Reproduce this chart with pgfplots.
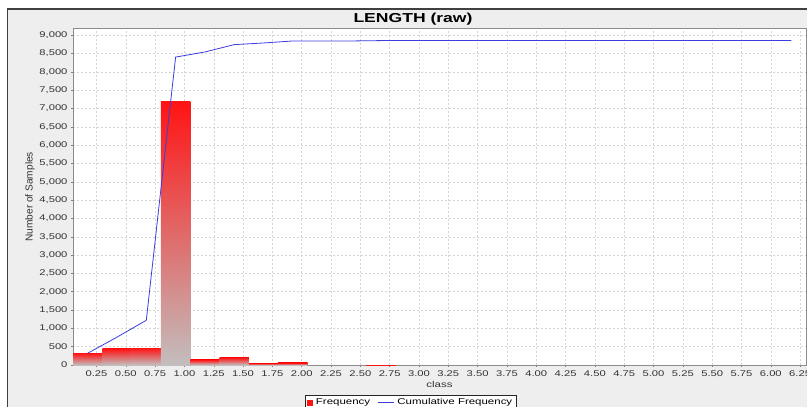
\documentclass[border=0pt]{standalone}
\usepackage{fontspec}
\setmainfont{Liberation Sans}[FakeStretch=1.35]
\usepackage{pgfplots}
\pgfplotsset{compat=1.18}

\definecolor{panelbg}{HTML}{EEEEEE}
\definecolor{barred}{RGB}{255,20,20}
\definecolor{bargray}{RGB}{195,190,190}
\definecolor{cumblue}{RGB}{60,60,225}
\definecolor{gridgray}{HTML}{D4D4D4}

\pgfplotsset{
  histbar/.style={ybar, bar width=0.25, bar shift=0pt, draw=none,
    top color=barred, bottom color=bargray, forget plot},
  tinybar/.style={ybar, bar width=0.25, bar shift=0pt, draw=none,
    fill=barred, forget plot},
}

\begin{document}
\begin{tikzpicture}
\useasboundingbox (0pt,0pt) rectangle (807pt,-407pt);
\clip (0pt,0pt) rectangle (807pt,-407pt);
\fill[white] (0pt,0pt) rectangle (807pt,-407pt);
\filldraw[fill=panelbg, draw=black!75, line width=1.2pt] (7.5pt,-9pt) rectangle (840pt,-440pt);
\node[font=\bfseries\fontsize{13}{15}\selectfont] at (413pt,-19pt) {LENGTH (raw)};
\begin{axis}[
  at={(73pt,-365pt)}, anchor=south west,
  scale only axis, width=733pt, height=336.5pt,
  xmin=0.05, xmax=6.30, ymin=0, ymax=9180,
  xtick={0.25,0.5,...,6.25},
  ytick={0,500,...,9000},
  tick pos=left, tick align=outside,
  major tick length=2pt,
  tick style={black!50, line width=0.4pt},
  axis line style={black!45, line width=0.6pt},
  axis background/.style={fill=white},
  grid=major,
  grid style={gridgray, line width=0.4pt, dash pattern=on 2pt off 2pt},
  /pgf/number format/assume math mode=true,
  ticklabel style={font=\fontsize{8.3}{10}\selectfont, text=black!80},
  xticklabel style={/pgf/number format/.cd, fixed, fixed zerofill, precision=2},
  yticklabel style={/pgf/number format/.cd, fixed, 1000 sep={,}},
  scaled ticks=false,
  xlabel={class},
  xlabel style={at={(axis description cs:0.5,-0.0564)}, anchor=center,
    font=\fontsize{8.5}{10}\selectfont, text=black!80},
  ylabel={\scalebox{1}[1.35]{Number of Samples}},
  ylabel style={at={(axis description cs:-0.0587,0.5)}, anchor=center,
    font=\fontsize{7.5}{9}\selectfont, text=black!80},
  legend columns=-1,
  legend style={at={(axis description cs:0.3165,-0.089)}, anchor=north west,
    draw=black!85, fill=white, line width=0.5pt, inner sep=1.5pt,
    font=\fontsize{8.5}{10}\selectfont,
    /tikz/every odd column/.append style={column sep=1.5pt},
    /tikz/every even column/.append style={column sep=5pt}},
]
% frequency per class (bin width 0.25, from 0.05)
\addplot[histbar] coordinates {(0.175,320)};
\addplot[histbar] coordinates {(0.425,440)};
\addplot[histbar] coordinates {(0.675,460)};
\addplot[histbar] coordinates {(0.925,7180)};
\addplot[histbar] coordinates {(1.175,140)};
\addplot[histbar] coordinates {(1.425,200)};
\addplot[histbar] coordinates {(1.675,45)};
\addplot[histbar] coordinates {(1.925,55)};
\addplot[tinybar] coordinates {(2.675,10)};
\addlegendimage{legend image code/.code={\fill[barred] (0pt,-2.6pt) rectangle (5.2pt,2.6pt);}}
\addlegendentry{Frequency}
\addplot[cumblue, line width=0.8pt, mark=none,
  legend image code/.code={\draw[cumblue, line width=0.8pt] (0pt,0pt) -- (16pt,0pt);}]
  coordinates {
  (0.175,320) (0.425,760) (0.675,1220) (0.925,8400)
  (1.175,8540) (1.425,8740) (1.675,8785) (1.925,8840)
  (2.175,8840) (2.425,8840) (2.675,8850) (2.925,8850)
  (3.175,8850) (3.425,8850) (3.675,8850) (3.925,8850)
  (4.175,8850) (4.425,8850) (4.675,8850) (4.925,8850)
  (5.175,8850) (5.425,8850) (5.675,8850) (5.925,8850)
  (6.175,8850)
  };
\addlegendentry{Cumulative Frequency}
\end{axis}
\end{tikzpicture}
\end{document}
